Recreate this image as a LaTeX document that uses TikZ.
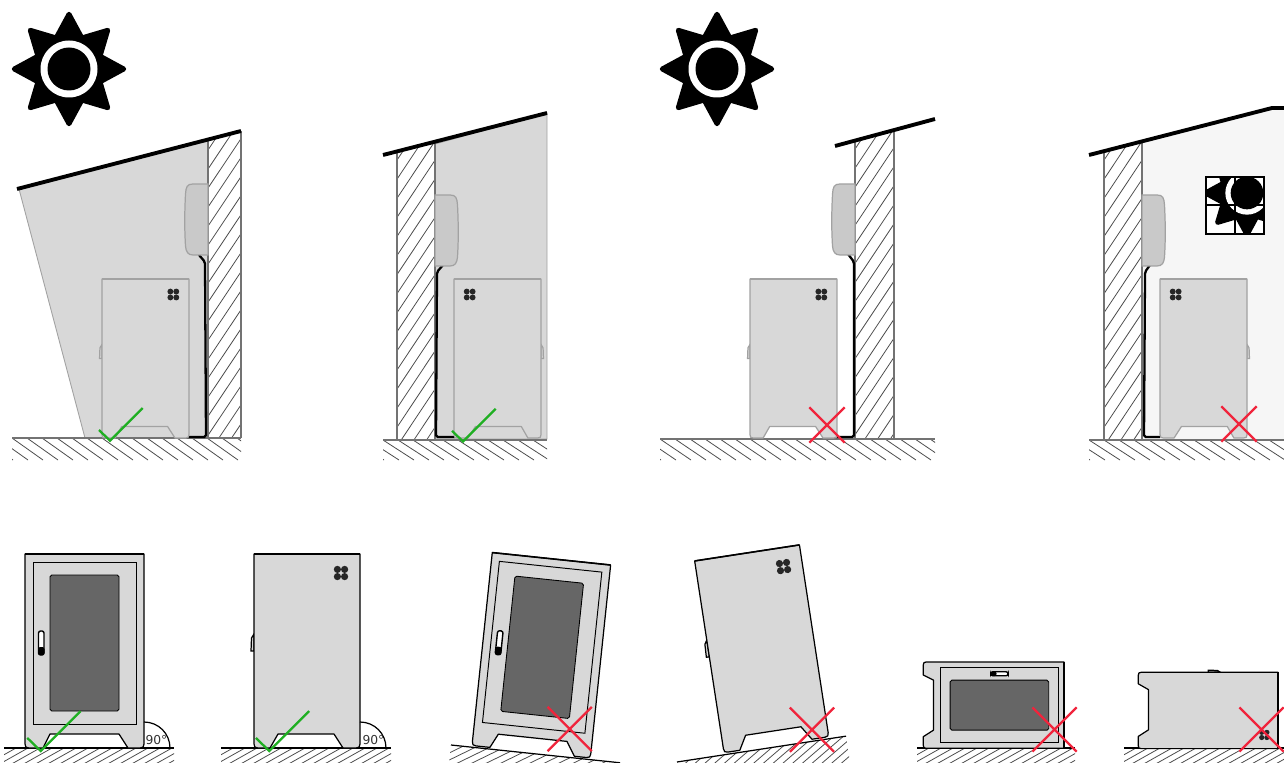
\documentclass[tikz,border=0pt]{standalone}
\usepackage{fontspec}
\setmainfont{DejaVu Sans}
\definecolor{cabgray}{HTML}{D8D8D8}
\definecolor{boxgray}{HTML}{C9C9C9}
\definecolor{cabfaint}{HTML}{A2A2A2}
\definecolor{glassgray}{HTML}{666666}
\definecolor{roomlight}{HTML}{F6F6F6}
\definecolor{okgreen}{HTML}{1FAF22}
\definecolor{badred}{HTML}{F0243C}
\newcommand{\hatcharea}[6]{
  \begin{scope}
    \clip (#1,#2) rectangle (#3,#4);
    \foreach \k in {-30,...,30}
      \draw[hatchline] ({#1+\k*#5},#2) -- ({#1+\k*#5+#6},#4);
  \end{scope}
}
\tikzset{
  pics/sunicon/.style={code={
    \fill[draw=black, line width=2.8pt, line join=round] (0:54.75)
      \foreach \a in {0,45,...,315} { -- (\a:54.75) -- ({\a+22.5}:33.6) } -- cycle;
    \fill[white] (0,0) circle (28.5);
    \fill[black] (0,0) circle (21.5);
  }},
  pics/sidecab/.style={code={
    \draw[pic actions, fill=cabgray] (0,-97) -- (-3,-97) -- (-2.5,-110) -- (0,-114) -- cycle;
    \draw[pic actions, fill=cabgray, line join=round]
      (0,-194) -- (106,-194) -- (106,-4) .. controls (106,-1) and (105,0) .. (102,0) -- (89,0)
      -- (80,-14) -- (24,-14) -- (16,0) -- (4,0) .. controls (1,0) and (0,-1) .. (0,-4) -- cycle;
    \draw[pic actions, line width=.9pt] (0,-194) -- (106,-194);
    \foreach \dx in {-1,1} \foreach \dy in {-1,1}
      \fill[black!85] ({87+\dx*3.6},{-175+\dy*3.6}) circle (3.6);
  }},
  pics/frontcab/.style={code={
    \draw[draw=black, fill=cabgray, line join=round]
      (0,-194) -- (119,-194) -- (119,-4) .. controls (119,-1) and (118,0) .. (115,0) -- (103,0)
      -- (94,-14) -- (25,-14) -- (18,0) -- (4,0) .. controls (1,0) and (0,-1) .. (0,-4) -- cycle;
    \draw[line width=.9pt] (0,-194) -- (119,-194);
    \draw[black, line width=.55pt] (8,-24) rectangle (111,-186);
    \draw[black, line width=.5pt, fill=glassgray, rounded corners=1pt] (25,-37) rectangle (94,-173);
    \draw[black, line width=.8pt, fill=white, rounded corners=1.2pt] (13.5,-93) rectangle (19,-117);
    \fill[black, rounded corners=1.2pt] (13,-93) rectangle (19.5,-101);
  }},
  pics/wallbox/.style={code={
    \draw[draw=cabfaint, fill=boxgray] (0,0) -- (-15,0) .. controls (-21,0) and (-22,3) .. (-22.5,10)
      .. controls (-23.5,30) and (-23.5,45) .. (-22.5,62)
      .. controls (-22,68) and (-20,71) .. (-15,71) -- (0,71) -- cycle;
  }},
  pics/okmark/.style={code={
    \draw[okgreen, line width=1.3pt] (-11,-10.7) -- (0,0) -- (32.7,-32.7);
  }},
  pics/badmark/.style={code={
    \draw[badred, line width=1.3pt] (-17.7,-17.7) -- (17.7,17.7) (-17.7,17.7) -- (17.7,-17.7);
  }}
}
\begin{document}
\begin{tikzpicture}[
  x=0.02cm, y=-0.02cm,
  line width=.7pt,
  hatchline/.style={black!70, line width=.45pt},
  faintline/.style={draw=black!55, line width=.6pt},
  roofline/.style={black, line width=2.2pt},
  cableline/.style={black, line width=1.3pt, rounded corners=1pt},
  anglelabel/.style={font=\fontsize{7}{8}\selectfont, text=black!80, inner sep=0pt},
]
  \clip (0,0) rectangle (1284,763);

  \pic at (69,69) {sunicon};
  \pic at (717,69) {sunicon};

  \fill[cabgray, draw=cabfaint, line width=.5pt] (19,189) -- (208,140) -- (208,438) -- (85,438) -- cycle;
  \hatcharea{208}{131}{241}{438}{12.7}{-205}
  \fill[white] (208,139.5) -- (241,131) -- (241,125) -- (208,125) -- cycle;
  \draw[faintline] (208,139.5) -- (208,438) (241,131) -- (241,438);
  \hatcharea{12}{438}{241}{460}{15}{31}
  \draw[faintline] (12,438) -- (241,438);
  \draw[roofline] (17,189) -- (241,131);
  \draw[cableline] (199,255) -- (205,262) -- (206,437) -- (187,437);
  \pic at (208,184) {wallbox};
  \pic[draw=cabfaint] at (102,438) [scale=.82] {sidecab};
  \pic at (110,440.7) {okmark};

  \fill[cabgray, draw=cabfaint, line width=.5pt] (435,144) -- (547,113) -- (547,439) -- (435,439) -- cycle;
  \hatcharea{397}{141}{435}{440}{12.7}{-199}
  \fill[white] (397,151.5) -- (435,141.7) -- (435,135) -- (397,135) -- cycle;
  \draw[faintline] (397,151.5) -- (397,440) (435,141.7) -- (435,440);
  \hatcharea{383}{440}{547}{460}{15}{31}
  \draw[faintline] (383,440) -- (547,440);
  \draw[roofline] (383,155) -- (547,113);
  \draw[cableline] (443,265) -- (437,272) -- (436,437) -- (455,437);
  \pic[xscale=-1] at (435,195) {wallbox};
  \pic[draw=cabfaint] at (541,438) [xscale=-.82, yscale=.82] {sidecab};
  \pic at (463,441.5) {okmark};

  \hatcharea{855}{130}{894}{439}{12.7}{-206}
  \fill[white] (855,140.6) -- (894,130) -- (894,120) -- (855,120) -- cycle;
  \draw[faintline] (855,140.6) -- (855,439) (894,130) -- (894,439);
  \hatcharea{660}{439}{935}{460}{15}{31}
  \draw[faintline] (660,439) -- (935,439);
  \draw[roofline] (835,146) -- (935,119);
  \draw[cableline] (848,254) -- (854,262) -- (854,437) -- (836,437);
  \pic at (855,184) {wallbox};
  \pic[draw=cabfaint] at (750,438) [scale=.82] {sidecab};
  \pic at (827,425) {badmark};

  \fill[roomlight] (1142,144) -- (1272,108) -- (1284,108) -- (1284,440) -- (1142,440) -- cycle;
  \fill[white] (1206,177) rectangle (1264,234);
  \begin{scope}
    \clip (1206,177) rectangle (1264,234);
    \pic[scale=.76] at (1247,193) {sunicon};
  \end{scope}
  \draw[black, line width=.6pt] (1206,177) rectangle (1264,234) (1235,177) -- (1235,234) (1206,205) -- (1264,205);
  \hatcharea{1104}{141}{1142}{440}{12.7}{-199}
  \fill[white] (1104,151) -- (1142,141.4) -- (1142,135) -- (1104,135) -- cycle;
  \draw[faintline] (1104,151) -- (1104,440) (1142,141.4) -- (1142,440);
  \hatcharea{1089}{440}{1284}{460}{15}{31}
  \draw[faintline] (1089,440) -- (1284,440);
  \draw[roofline] (1089,155) -- (1272,108) -- (1284,108);
  \draw[cableline] (1150,265) -- (1145,272) -- (1144,437) -- (1160,437);
  \pic[xscale=-1] at (1142,195) {wallbox};
  \pic[draw=cabfaint] at (1247,438) [xscale=-.82, yscale=.82] {sidecab};
  \pic at (1239,424) {badmark};

  \hatcharea{4}{748}{174}{775}{12}{-48}
  \draw[black] (4,748) -- (174,748);
  \pic at (25,748) {frontcab};
  \draw[black] (144,722) .. controls (158.4,722) and (170,733.6) .. (170,748);
  \node[anglelabel] (angleA) at (156.5,740.5) {90°};
  \pic[scale=1.22] at (40.7,751) {okmark};

  \hatcharea{221}{748}{391}{775}{12}{-48}
  \draw[black] (221,748) -- (391,748);
  \pic[draw=black] at (254,748) {sidecab};
  \draw[black] (360,722) .. controls (374.4,722) and (386,733.6) .. (386,748);
  \node[anglelabel] (angleB) at (373.5,740.5) {90°};
  \pic[scale=1.22] at (269.3,751) {okmark};

  \begin{scope}[shift={(451,745)}, rotate=-6]
    \hatcharea{0}{0}{170}{30}{12}{-48}
    \draw[black] (0,0) -- (170,0);
  \end{scope}
  \pic[rotate=-6] at (472,745.5) {frontcab};
  \pic[scale=1.25] at (569.7,729) {badmark};

  \begin{scope}[shift={(677,762)}, rotate=8.7]
    \hatcharea{0}{0}{171}{30}{12}{-48}
    \draw[black] (0,0) -- (171,0);
  \end{scope}
  \pic[draw=black, rotate=8.7] at (724,752.7) {sidecab};
  \pic[scale=1.25] at (812,729.7) {badmark};

  \hatcharea{917}{748}{1075}{775}{12}{-48}
  \draw[black] (917,748) -- (1075,748);
  \pic[rotate=-90, scale=.725] at (923.3,662) {frontcab};
  \pic[scale=1.25] at (1054.5,729.5) {badmark};

  \hatcharea{1124}{748}{1284}{775}{12}{-48}
  \draw[black] (1124,748) -- (1284,748);
  \pic[draw=black, rotate=-90, scale=.72] at (1138.3,672.3) {sidecab};
  \pic[scale=1.25] at (1261.5,729.5) {badmark};
\end{tikzpicture}
\end{document}
